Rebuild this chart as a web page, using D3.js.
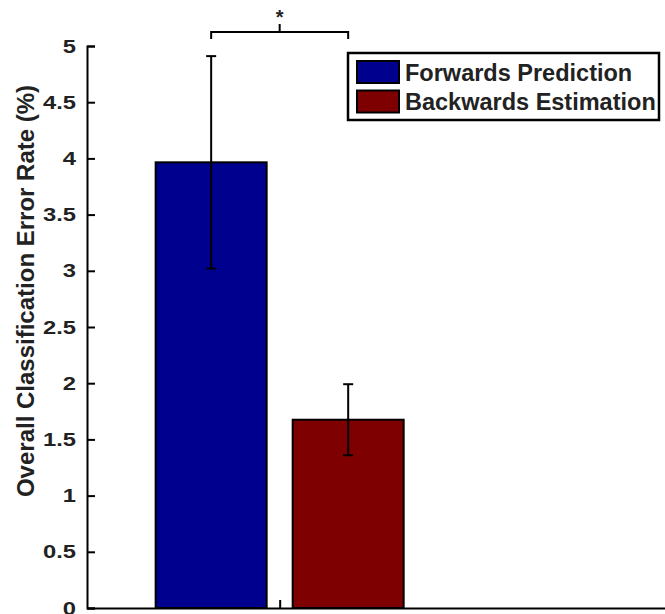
<!DOCTYPE html>
<html>
<head>
<meta charset="utf-8">
<script src="https://cdn.jsdelivr.net/npm/d3@7"></script>
<style>
  body { margin: 0; background: #fff; }
  svg { display: block; font-family: "Liberation Sans", Arial, Helvetica, sans-serif; font-weight: bold; }
</style>
</head>
<body>
<svg id="chart" width="665" height="614"></svg>
<script>
// series in the single group
var series = ['Forwards Prediction', 'Backwards Estimation'];
var means = [3.965, 1.675];
var errs = [0.945, 0.316];
var colors = ['#00008f', '#7f0000'];
var yTicks = [0, 0.5, 1, 1.5, 2, 2.5, 3, 3.5, 4, 4.5, 5];
var yTickLabels = ['0', '0.5', '1', '1.5', '2', '2.5', '3', '3.5', '4', '4.5', '5'];
var groupPos = 1;

var svg = d3.select('#chart');

var y = d3.scaleLinear().domain([0, 5]).range([608, 46]);
var x = d3.scaleLinear().domain([0, 3]).range([87, 665]);

// bars within the group
var band = d3.scaleBand().domain(series)
    .range([x(groupPos) - 124, x(groupPos) + 124])
    .paddingInner(0.19);

var data = series.map(function (s, i) {
    return { name: s, mean: means[i], err: errs[i], color: colors[i] };
});

// bars
svg.selectAll('rect.bar').data(data).enter().append('rect')
    .attr('class', 'bar')
    .attr('x', d => band(d.name))
    .attr('width', band.bandwidth())
    .attr('y', d => y(d.mean))
    .attr('height', d => y(0) - y(d.mean))
    .attr('fill', d => d.color)
    .attr('stroke', '#000')
    .attr('stroke-width', 2);

// error bars
var eb = svg.selectAll('g.err').data(data).enter().append('g').attr('class', 'err');
eb.append('line')
    .attr('x1', d => band(d.name) + band.bandwidth() / 2)
    .attr('x2', d => band(d.name) + band.bandwidth() / 2)
    .attr('y1', d => y(d.mean - d.err))
    .attr('y2', d => y(d.mean + d.err))
    .attr('stroke', '#000').attr('stroke-width', 2);
[-1, 1].forEach(function (s) {
    eb.append('line')
        .attr('x1', d => band(d.name) + band.bandwidth() / 2 - 5)
        .attr('x2', d => band(d.name) + band.bandwidth() / 2 + 5)
        .attr('y1', d => y(d.mean + s * d.err))
        .attr('y2', d => y(d.mean + s * d.err))
        .attr('stroke', '#000').attr('stroke-width', 2);
});

// axes, ticks pointing inward
var yAxis = d3.axisLeft(y).tickValues(yTicks)
    .tickFormat((d, i) => yTickLabels[i])
    .tickSizeInner(-8).tickSizeOuter(-8).tickPadding(11);
var gy = svg.append('g').attr('transform', 'translate(87,0)').call(yAxis);
gy.select('.domain').attr('stroke-width', 2);
gy.selectAll('.tick line').attr('stroke-width', 2);
// labels in the picture are wider than they are tall
gy.selectAll('.tick text')
    .attr('font-size', 19).attr('font-weight', 'bold')
    .attr('font-family', '"Liberation Sans", Arial, sans-serif').attr('fill', '#222')
    .attr('x', -11 / 1.25)
    .attr('transform', 'scale(1.25,1)');

var xAxis = d3.axisBottom(x).tickValues([groupPos]).tickFormat('')
    .tickSizeInner(-8).tickSizeOuter(0);
var gx = svg.append('g').attr('transform', 'translate(0,608)').call(xAxis);
gx.select('.domain').attr('stroke-width', 2);
gx.selectAll('.tick line').attr('stroke-width', 2);

// y label
svg.append('text')
    .attr('transform', 'translate(34,291) rotate(-90)')
    .attr('text-anchor', 'middle')
    .attr('font-size', 24)
    .attr('fill', '#222')
    .text('Overall Classification Error Rate (%)');

// significance bracket
var bx1 = band(series[0]) + band.bandwidth() / 2;
var bx2 = band(series[1]) + band.bandwidth() / 2;
var bTop = 32;
svg.append('path')
    .attr('d', 'M' + bx1 + ',' + (bTop + 7) + 'V' + bTop + 'H' + bx2 + 'V' + (bTop + 7) +
        'M' + x(groupPos) + ',' + bTop + 'V' + (bTop - 8))
    .attr('fill', 'none').attr('stroke', '#000').attr('stroke-width', 2);
svg.append('text')
    .attr('x', x(groupPos)).attr('y', 24)
    .attr('text-anchor', 'middle').attr('font-size', 20).attr('fill', '#222')
    .text('*');

// legend
var lg = svg.append('g').attr('transform', 'translate(348,53)');
lg.append('rect').attr('width', 311).attr('height', 67)
    .attr('fill', '#fff').attr('stroke', '#000').attr('stroke-width', 2.5);
var items = lg.selectAll('g.item').data(data).enter().append('g')
    .attr('transform', (d, i) => 'translate(9,' + (8 + i * 29.5) + ')');
items.append('rect').attr('width', 42).attr('height', 22)
    .attr('fill', d => d.color).attr('stroke', '#000').attr('stroke-width', 2);
items.append('text').attr('x', 48).attr('y', 19.5)
    .attr('font-size', 23.5).attr('fill', '#222')
    .text(d => d.name);
</script>
</body>
</html>
